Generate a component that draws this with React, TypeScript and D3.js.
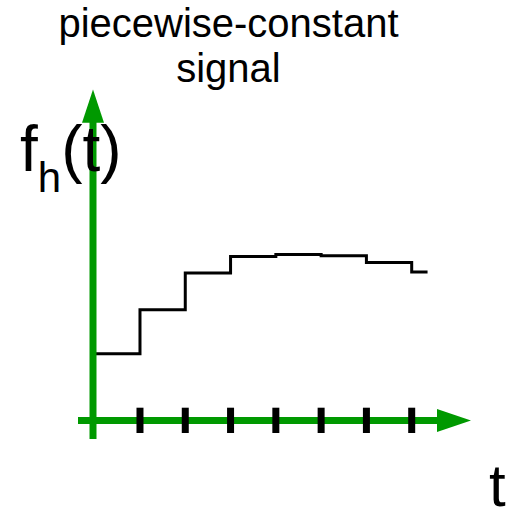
import React from "react";
import * as d3 from "d3";

const W = 522;
const H = 511;

// step signal: interval start times and constant values
const stepTimes = [0, 1, 2, 3, 4, 5, 6, 7];
const stepValues = [33.4, 55.4, 73.8, 82.0, 83.0, 82.4, 79.0, 74.2];
const stepEnd = 7.35;
const tickTimes = [1, 2, 3, 4, 5, 6, 7];
const titleLines = ["piecewise-constant", "signal"];

const GREEN = "#009900";
const FONT = "'Liberation Sans', Arial, sans-serif";

export default function App() {
  const x = d3.scaleLinear().domain([0, 7]).range([94.7, 411.7]);
  const y = d3.scaleLinear().domain([0, 100]).range([420.5, 220.5]);

  const pts: [number, number][] = stepTimes.map((t, i) => [t, stepValues[i]]);
  pts.push([stepEnd, stepValues[stepValues.length - 1]]);
  const line = d3
    .line<[number, number]>()
    .x((d) => x(d[0]))
    .y((d) => y(d[1]))
    .curve(d3.curveStepAfter);

  const axisY = y(0);
  const axisX = x(0) - 1.7;

  return (
    <svg
      width={W}
      height={H}
      style={{ position: "absolute", left: 0, top: 0, background: "#fff" }}
      fontFamily={FONT}
    >
      {titleLines.map((s, i) => (
        <text key={s} x={228.5} y={37 + i * 45} fontSize={40} textAnchor="middle" fill="#000">
          {s}
        </text>
      ))}

      <path d={line(pts) || ""} fill="none" stroke="#000" strokeWidth={3} strokeLinejoin="miter" />

      {/* y axis */}
      <line x1={axisX} x2={axisX} y1={439} y2={121} stroke={GREEN} strokeWidth={7} />
      <polygon
        points={`${axisX},89.5 ${axisX - 11},122.7 ${axisX + 11},122.7`}
        fill={GREEN}
      />
      {/* x axis */}
      <line x1={78} x2={438} y1={axisY} y2={axisY} stroke={GREEN} strokeWidth={7} />
      <polygon
        points={`471,${axisY} 437,${axisY - 11.5} 437,${axisY + 11.5}`}
        fill={GREEN}
      />

      {tickTimes.map((t) => (
        <line
          key={t}
          x1={x(t)}
          x2={x(t)}
          y1={407.7}
          y2={433}
          stroke="#000"
          strokeWidth={7}
        />
      ))}

      <text x={20} y={171} fontSize={64} fill="#000">
        f
        <tspan fontSize={42} dy={21}>h</tspan>
        <tspan fontSize={64} dy={-21}>(t)</tspan>
      </text>

      <text x={489} y={506} fontSize={60} fill="#000">t</text>
    </svg>
  );
}
